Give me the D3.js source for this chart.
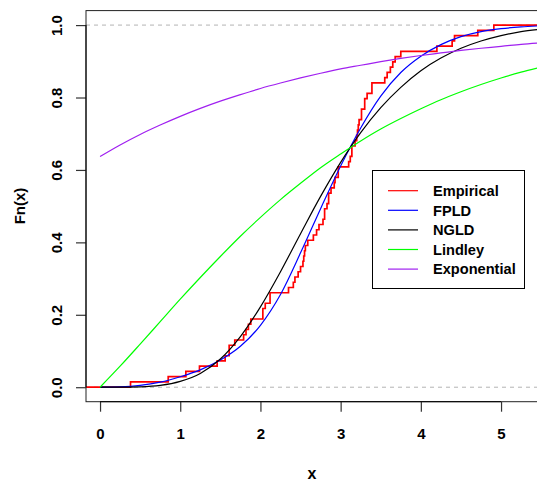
<!DOCTYPE html>
<html>
<head>
<meta charset="utf-8">
<script src="https://cdn.jsdelivr.net/npm/d3@7"></script>
<style>
  html, body { margin: 0; padding: 0; background: #fff; }
  svg { display: block; font-family: "Liberation Sans", Arial, sans-serif; }
</style>
</head>
<body>
<svg id="chart" width="537" height="482"></svg>
<script>
// Sample (n = 69), sorted
const observations = [0.38,0.85,1.07,1.24,1.46,1.56,1.61,1.61,1.68,1.79,1.82,1.85,1.88,
  2.03,2.03,2.06,2.12,2.12,2.35,2.41,2.43,2.47,2.50,2.53,2.54,2.55,2.56,2.59,2.66,2.70,
  2.73,2.78,2.80,2.80,2.83,2.85,2.85,2.88,2.92,2.93,2.97,2.97,3.10,3.12,3.14,3.14,3.18,
  3.20,3.21,3.22,3.23,3.26,3.26,3.30,3.30,3.33,3.39,3.39,3.55,3.58,3.62,3.65,3.68,3.75,
  4.20,4.39,4.42,4.71,4.91];

// Fitted distribution functions evaluated on a grid
const gridX   = [0,0.25,0.5,0.75,1,1.25,1.5,1.75,2,2.25,2.5,2.75,3,3.25,3.5,3.75,4,4.25,4.5,4.75,5,5.25,5.5];
const fpld    = [0,0.001,0.005,0.014,0.029,0.048,0.075,0.113,0.171,0.256,0.371,0.493,0.611,0.716,0.804,0.869,0.914,0.946,0.968,0.982,0.990,0.995,0.998];
const ngld    = [0,0,0.001,0.005,0.016,0.038,0.078,0.140,0.222,0.319,0.424,0.527,0.621,0.703,0.772,0.828,0.874,0.909,0.936,0.956,0.971,0.982,0.989];
const lindley = [0,0.058,0.119,0.181,0.243,0.303,0.361,0.417,0.469,0.518,0.563,0.606,0.644,0.680,0.713,0.742,0.769,0.794,0.816,0.836,0.854,0.870,0.884];
const expo    = [0.637,0.669,0.698,0.724,0.748,0.770,0.790,0.808,0.825,0.840,0.854,0.867,0.879,0.889,0.899,0.908,0.916,0.923,0.930,0.936,0.941,0.947,0.951];

const xTicks = [0,1,2,3,4,5];
const yTicks = [0,0.2,0.4,0.6,0.8,1.0];

const legendLabels = ["Empirical","FPLD","NGLD","Lindley","Exponential"];
const legendColors = ["#ff0000","#0000ff","#000000","#00ff00","#a020f0"];

const svg = d3.select("#chart");

const plot = { left: 86, right: 562, top: 10.6, bottom: 401.7 };
const x = d3.scaleLinear().domain([-0.175, 5.76]).range([plot.left, plot.right]);
const y = d3.scaleLinear().domain([-0.04, 1.04]).range([plot.bottom, plot.top]);

svg.append("defs").append("clipPath").attr("id", "plotclip")
  .append("rect")
  .attr("x", plot.left).attr("y", plot.top)
  .attr("width", plot.right - plot.left).attr("height", plot.bottom - plot.top);

const g = svg.append("g").attr("clip-path", "url(#plotclip)");

// reference lines at 0 and 1
g.selectAll("line.ref").data([0, 1]).join("line")
  .attr("class", "ref")
  .attr("x1", plot.left).attr("x2", plot.right)
  .attr("y1", d => y(d)).attr("y2", d => y(d))
  .attr("stroke", "#b3b3b3").attr("stroke-width", 1)
  .attr("stroke-dasharray", "4,4");

// empirical distribution function
const n = observations.length;
const counts = d3.rollups(observations, v => v.length, d => d).sort((a, b) => a[0] - b[0]);
let cum = 0;
const ecdfPts = [[x.invert(plot.left), 0]];
counts.forEach(([v, c]) => { cum += c; ecdfPts.push([v, cum / n]); });
ecdfPts.push([x.invert(plot.right), 1]);

const stepLine = d3.line().x(d => x(d[0])).y(d => y(d[1])).curve(d3.curveStepAfter);
g.append("path").datum(ecdfPts)
  .attr("d", stepLine)
  .attr("fill", "none").attr("stroke", "#ff0000").attr("stroke-width", 1.7);

// fitted curves
const smooth = d3.line().x(d => x(d[0])).y(d => y(d[1])).curve(d3.curveMonotoneX);
const curves = [
  { vals: fpld, color: legendColors[1] },
  { vals: ngld, color: legendColors[2] },
  { vals: lindley, color: legendColors[3] },
  { vals: expo, color: legendColors[4] }
];
curves.forEach(c => {
  g.append("path").datum(gridX.map((gx, i) => [gx, c.vals[i]]))
    .attr("d", smooth)
    .attr("fill", "none").attr("stroke", c.color).attr("stroke-width", 1.2);
});

// frame
svg.append("rect")
  .attr("x", plot.left).attr("y", plot.top)
  .attr("width", plot.right - plot.left).attr("height", plot.bottom - plot.top)
  .attr("fill", "none").attr("stroke", "#222").attr("stroke-width", 1);

const labelFont = '"Liberation Sans", Arial, sans-serif';

// x axis
const xAxis = svg.append("g").attr("transform", `translate(0,${plot.bottom})`)
  .call(d3.axisBottom(x).tickValues(xTicks).tickFormat(d3.format("d"))
    .tickSize(10).tickPadding(16.6).tickSizeOuter(0));
xAxis.select(".domain").remove();
xAxis.append("line").attr("x1", x(xTicks[0])).attr("x2", x(xTicks[xTicks.length - 1]))
  .attr("stroke", "#000");
xAxis.selectAll(".tick line").attr("stroke", "#333").attr("stroke-width", 1.2);
xAxis.selectAll(".tick text").attr("fill", "#000")
  .style("font-size", "15px").style("font-weight", "bold")
  .style("font-family", labelFont);

// y axis
const yAxis = svg.append("g").attr("transform", `translate(${plot.left},0)`)
  .call(d3.axisLeft(y).tickValues(yTicks).tickSize(10).tickFormat(d3.format(".1f")).tickSizeOuter(0));
yAxis.select(".domain").remove();
yAxis.append("line").attr("y1", y(yTicks[0])).attr("y2", y(yTicks[yTicks.length - 1]))
  .attr("stroke", "#000");
yAxis.selectAll(".tick line").attr("stroke", "#333").attr("stroke-width", 1.2);
yAxis.selectAll(".tick text")
  .attr("x", null).attr("dy", null)
  .attr("transform", "translate(-24,0) rotate(-90)")
  .attr("text-anchor", "middle").attr("fill", "#000")
  .style("font-size", "15px").style("font-weight", "bold")
  .style("font-family", labelFont);

// axis titles
svg.append("text").attr("x", 312).attr("y", 479)
  .attr("text-anchor", "middle")
  .style("font-size", "16px").style("font-weight", "bold").text("x");
svg.append("text").attr("transform", "translate(25,206) rotate(-90)")
  .attr("text-anchor", "middle")
  .style("font-size", "15px").style("font-weight", "bold").text("Fn(x)");

// legend
const legend = svg.append("g");
legend.append("rect").attr("x", 372.5).attr("y", 170.5).attr("width", 152).attr("height", 118)
  .attr("fill", "#fff").attr("stroke", "#000").attr("stroke-width", 1);
const rows = legend.selectAll("g.row").data(legendLabels).join("g")
  .attr("class", "row")
  .attr("transform", (d, i) => `translate(0,${190.7 + i * 19.6})`);
rows.append("line").attr("x1", 388).attr("x2", 418)
  .attr("stroke", (d, i) => legendColors[i]).attr("stroke-width", 1.2);
rows.append("text").attr("x", 433).attr("dy", "0.36em")
  .style("font-size", "14.6px").style("font-weight", "bold").text(d => d);
</script>
</body>
</html>
